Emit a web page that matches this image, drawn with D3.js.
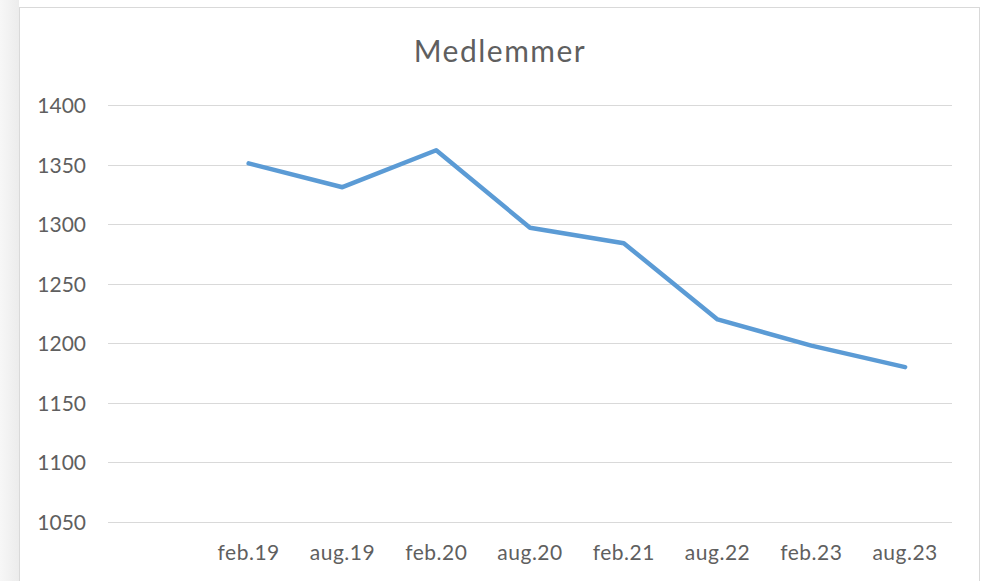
<!DOCTYPE html>
<html>
<head>
<meta charset="utf-8">
<script src="https://cdn.jsdelivr.net/npm/d3@7"></script>
<style>
  html, body { margin: 0; padding: 0; background: #ffffff; }
  svg { display: block; }
</style>
</head>
<body>
<script>
// ---- data ----
const categories = ["", "feb.19", "aug.19", "feb.20", "aug.20", "feb.21", "aug.22", "feb.23", "aug.23"];
const memberValues = [null, 1351, 1331, 1362, 1297, 1284, 1220, 1198, 1180];
const yTicks = [1050, 1100, 1150, 1200, 1250, 1300, 1350, 1400];
const chartTitle = "Medlemmer";

const W = 982, H = 581;
const font = "Lato, 'Open Sans', 'Liberation Sans', sans-serif";

const svg = d3.select("body").append("svg").attr("width", W).attr("height", H);

// left shadow gradient
const defs = svg.append("defs");
const grad = defs.append("linearGradient").attr("id", "shadow").attr("x1", "0").attr("x2", "1").attr("y1", "0").attr("y2", "0");
grad.append("stop").attr("offset", "0%").attr("stop-color", "#f7f7f7");
grad.append("stop").attr("offset", "100%").attr("stop-color", "#ececec");
svg.append("rect").attr("x", 0).attr("y", 0).attr("width", 19).attr("height", H).attr("fill", "url(#shadow)");

// chart frame
svg.append("rect").attr("x", 19.5).attr("y", 7.5).attr("width", 960).attr("height", H)
  .attr("fill", "#ffffff").attr("stroke", "#d9d9d9").attr("stroke-width", 1);

const plot = { left: 108, right: 952, top: 105, bottom: 522 };

const x = d3.scaleBand().domain(categories.map((c, i) => i)).range([plot.left, plot.right]).paddingInner(0).paddingOuter(0);
const y = d3.scaleLinear().domain([1050, 1400]).range([plot.bottom, plot.top]);

// gridlines
svg.append("g").selectAll("line").data(yTicks).join("line")
  .attr("x1", plot.left).attr("x2", plot.right)
  .attr("y1", d => Math.round(y(d)) + 0.5).attr("y2", d => Math.round(y(d)) + 0.5)
  .attr("stroke", "#d9d9d9").attr("stroke-width", 1);

// y axis labels
const yAxis = d3.axisLeft(y).tickValues(yTicks).tickSize(0).tickPadding(0).tickFormat(d3.format("d"));
const gy = svg.append("g").attr("transform", `translate(86,0)`).call(yAxis);
gy.select(".domain").remove();
gy.selectAll("text").attr("font-family", font).attr("font-size", 21).attr("fill", "#5f5f5f").attr("dy", "0.36em");

// x axis labels
const xAxis = d3.axisBottom(x).tickSize(0).tickPadding(0).tickFormat(i => categories[i]);
const gx = svg.append("g").attr("transform", `translate(0,${plot.bottom})`).call(xAxis);
gx.select(".domain").remove();
gx.selectAll("text").attr("font-family", font).attr("font-size", 21).attr("fill", "#5f5f5f")
  .attr("dy", null).attr("y", 38).attr("letter-spacing", 0.5);

// line
const pts = memberValues.map((v, i) => ({ i, v })).filter(d => d.v != null);
const line = d3.line().x(d => x(d.i) + x.bandwidth() / 2).y(d => y(d.v));
svg.append("path").datum(pts).attr("d", line)
  .attr("fill", "none").attr("stroke", "#5b9bd5").attr("stroke-width", 4.5)
  .attr("stroke-linejoin", "round").attr("stroke-linecap", "round");

// title
svg.append("text").attr("x", 500).attr("y", 62).attr("text-anchor", "middle")
  .attr("font-family", font).attr("font-size", 30).attr("fill", "#5f5f5f")
  .attr("letter-spacing", 1.5)
  .text(chartTitle);
</script>
</body>
</html>
